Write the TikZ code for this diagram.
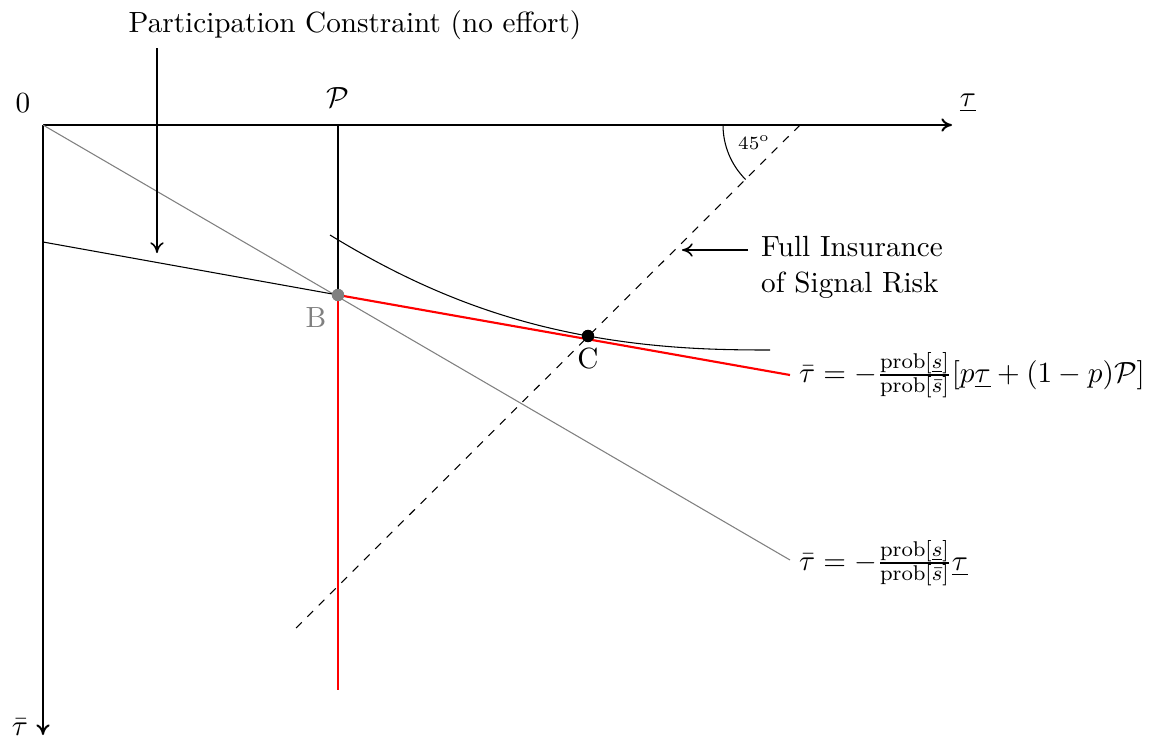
\documentclass[tikz,border=0pt]{standalone}
\usetikzlibrary{arrows.meta}
\begin{document}
\begin{tikzpicture}[x=0.375pt,y=-0.375pt,
  every node/.style={font=\fontsize{10.95}{13.6}\selectfont},
  axis/.style={line width=0.75pt,-{To[length=4pt,width=5pt]}},
  thinline/.style={line width=0.4pt},
  redline/.style={red,line width=0.8pt},
  greyline/.style={gray,line width=0.4pt},
  callout/.style={line width=0.6pt,-{To[length=4pt,width=5pt]}},
  lbl/.style={inner sep=1pt},
  dot/.style={circle,inner sep=0pt,minimum size=4.6pt}]
\useasboundingbox (0,0) rectangle (1151,750);
% key points
\coordinate (O) at (43,125);
\coordinate (xend) at (952,125);
\coordinate (yend) at (43,735);
\coordinate (Ptop) at (338,125);
\coordinate (Pbot) at (338,690);
\coordinate (PCstart) at (43,242);
\coordinate (Rend) at (790,375);
\coordinate (Gend) at (790,560);
\coordinate (Dtop) at (800,125);
\coordinate (Dbot) at (296,628);
\coordinate (Cstart) at (330,235);
\coordinate (Cend) at (770,350);
\coordinate (ArcStart) at (723,125);
\coordinate (PCarrTop) at (157,48);
\coordinate (PCarrBot) at (157,253);
\coordinate (FIarrS) at (748,250);
\coordinate (FIarrE) at (682,250);
% points B and C
\node[dot,fill=gray] (B) at (338,295) {};
\node[dot,fill=black] (C) at (588,336) {};
% axes
\draw[axis] (O) -- (xend);
\draw[axis] (O) -- (yend);
% lines
\draw[greyline] (O) -- (Gend);
\draw[thinline] (Ptop) -- (B.center);
\draw[thinline] (PCstart) -- (B.center);
\draw[redline] (B.center) -- (Pbot);
\draw[redline] (B.center) -- (Rend);
\draw[thinline,dashed] (Dtop) -- (Dbot);
\draw[thinline] (Cstart) .. controls (420,290) and (500,320) .. (C.center)
  .. controls (660,349) and (720,350) .. (Cend);
\draw[thinline] (ArcStart) arc[start angle=180,end angle=135,radius=77];
\node[dot,fill=gray] at (B) {};
\node[dot,fill=black] at (C) {};
% labels
\node[lbl] (zero) at (23,103) {$0$};
\node[lbl] (Plbl) at (338,98) {$\mathcal{P}$};
\node[lbl] (xlbl) at (968,103) {$\underline{\tau}$};
\node[lbl] (ylbl) at (20,727) {$\bar{\tau}$};
\node[lbl,text=gray] (Blbl) at (316,318) {B};
\node[lbl] (Clbl) at (588,359) {C};
\node[lbl,font=\scriptsize] (deg) at (754,143) {$45^{\mathrm{o}}$};
\node[lbl] (PClbl) at (355,25) {Participation Constraint (no effort)};
\node[lbl,anchor=west,align=left] (FIlbl) at (758,267) {Full Insurance\\of Signal Risk};
\node[lbl,anchor=west] (F1) at (796,375) {$\bar\tau=-\frac{\mathrm{prob}[\underline{s}]}{\mathrm{prob}[\bar{s}]}[p\underline{\tau}+(1-p)\mathcal{P}]$};
\node[lbl,anchor=west] (F2) at (796,563) {$\bar\tau=-\frac{\mathrm{prob}[\underline{s}]}{\mathrm{prob}[\bar{s}]}\underline{\tau}$};
% callouts
\draw[callout] (PCarrTop) -- (PCarrBot);
\draw[callout] (FIarrS) -- (FIarrE);
\end{tikzpicture}
\end{document}
